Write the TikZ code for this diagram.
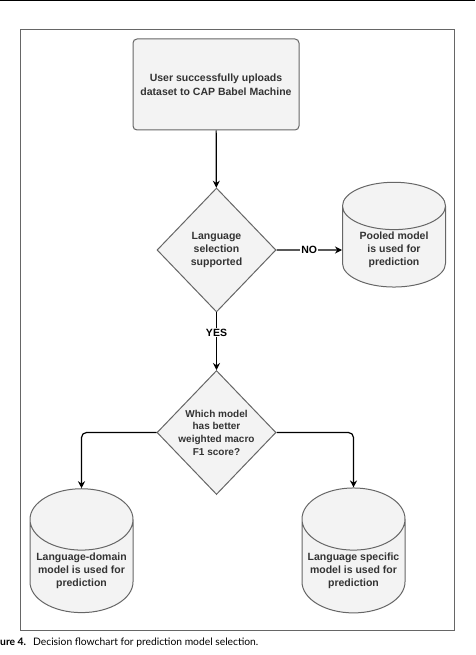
\documentclass[tikz,border=0pt]{standalone}
\usepackage{fontspec}
\setmainfont{Liberation Sans}
\newfontfamily\capfont{Lato}
\usepackage{tikz}
\usetikzlibrary{shapes.geometric,arrows.meta}
\definecolor{boxgray}{HTML}{F3F3F3}
\definecolor{linegray}{HTML}{666666}
\definecolor{txtgray}{HTML}{333333}
\tikzstyle{box}=[rectangle,rounded corners=4pt,draw=linegray,line width=1pt,fill=boxgray,text=txtgray,minimum width=166pt,minimum height=91pt,align=center,font=\bfseries\fontsize{10.5}{13.5}\selectfont]
\tikzstyle{choice}=[diamond,draw=linegray,line width=1pt,fill=boxgray,minimum width=119pt,minimum height=124pt,inner sep=0pt]
\tikzstyle{store}=[cylinder,shape border rotate=90,aspect=0.65,draw=linegray,line width=1pt,fill=boxgray,text=txtgray,minimum width=103pt,minimum height=101pt,inner sep=2pt,align=center,font=\bfseries\fontsize{10.5}{13}\selectfont]
\tikzstyle{inside}=[align=center,text=txtgray,font=\bfseries\fontsize{10.5}{13}\selectfont]
\tikzstyle{flow}=[-{Stealth[length=7pt,width=7pt]},line width=1.2pt]

\begin{document}
\begin{tikzpicture}[x=1pt,y=-1pt]

  \useasboundingbox (0,0) rectangle (475,655);
  \draw[line width=1.5pt] (0,0.75)--(475,0.75);
  \draw[linegray,line width=1pt] (20.7,29.3) rectangle (454,630);

  \node[box] (U) at (216,84.5) {User successfully uploads\\dataset to CAP Babel Machine};
  \node[choice,label={[inside]center:Language\\selection\\supported}] (L) at (216.5,250) {};
  \node[store] (P) at (394,250) {Pooled model\\is used for\\prediction};
  \node[choice,label={[inside,font=\bfseries\fontsize{10}{12.7}\selectfont]center:Which model\\has better\\weighted macro\\F1 score?}] (W) at (216.5,432.5) {};
  \node[store] (LD) at (81.5,570.5) {Language-domain\\model is used for\\prediction};
  \node[store] (LS) at (353.5,570.5) {Language specific\\model is used for\\prediction};

  \draw[flow] (U)--(L);
  \draw[flow] (L)--(P) node[midway,fill=white,inner sep=1pt,font=\bfseries\fontsize{10.5}{12}\selectfont]{NO};
  \draw[flow] (L)--(W) node[pos=0.35,fill=white,inner sep=1pt,font=\bfseries\fontsize{10.5}{12}\selectfont]{YES};
  \draw[flow,rounded corners=5pt] (W.west)-|(LD.north);
  \draw[flow,rounded corners=5pt] (W.east)-|(LS.north);

  % caption
  \node[anchor=base west,inner sep=0pt,font=\capfont\fontsize{10.3}{12}\selectfont] (cap) at (0,645) {\textbf{ure 4.}\hspace{7pt}Decision flowchart for prediction model selection.};

\end{tikzpicture}
\end{document}
